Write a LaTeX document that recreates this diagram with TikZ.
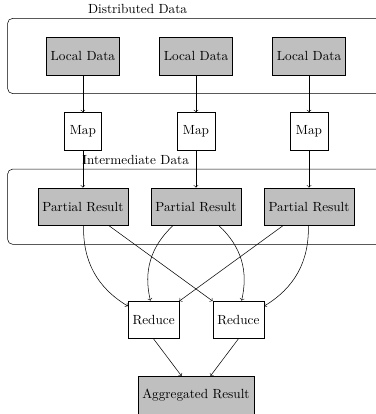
\documentclass[tikz,border=0pt]{standalone}
\usetikzlibrary{arrows,positioning}

\begin{document}
\begin{tikzpicture}[
    datum/.style={draw,fill=gray!50,minimum height=1cm},
    task/.style={draw,minimum height=1cm,minimum width=1cm},
    frame/.style={draw,rounded corners,minimum width=10cm,minimum height=2cm}]
    \useasboundingbox (-2.2,-9.5) rectangle (7.77,1.485);

    \node[frame] (dist) at (3,0) {};
    \node[frame] (inter) at (3,-4) {};
    \node[above] (distlab) at (1.45,1) {Distributed Data};
    \node[above] (interlab) at (1.4,-3) {Intermediate Data};

    \node[datum] (ld1) at (0,0) {Local Data};
    \node[datum] (ld2) at (3,0) {Local Data};
    \node[datum] (ld3) at (6,0) {Local Data};
    \node[task] (m1) at (0,-2) {Map};
    \node[task] (m2) at (3,-2) {Map};
    \node[task] (m3) at (6,-2) {Map};
    \node[datum] (pr1) at (0,-4) {Partial Result};
    \node[datum] (pr2) at (3,-4) {Partial Result};
    \node[datum] (pr3) at (6,-4) {Partial Result};
    \node[task] (rd1) at (1.875,-7) {Reduce};
    \node[task] (rd2) at (4.125,-7) {Reduce};
    \node[datum] (agg) at (3,-9) {Aggregated Result};

    \draw[->] (ld1) -- (m1);
    \draw[->] (ld2) -- (m2);
    \draw[->] (ld3) -- (m3);
    \draw[->] (m1) -- (pr1);
    \draw[->] (m2) -- (pr2);
    \draw[->] (m3) -- (pr3);

    \draw[->] (pr1) to[bend right] (rd1);
    \draw[->] (pr1) -- (rd2);
    \draw[->] (pr2) to[bend right] (rd1);
    \draw[->] (pr2) to[bend left] (rd2);
    \draw[->] (pr3) -- (rd1);
    \draw[->] (pr3) to[bend left] (rd2);

    \draw[->] (rd1.south) -- (agg);
    \draw[->] (rd2.south) -- (agg);
\end{tikzpicture}
\end{document}
